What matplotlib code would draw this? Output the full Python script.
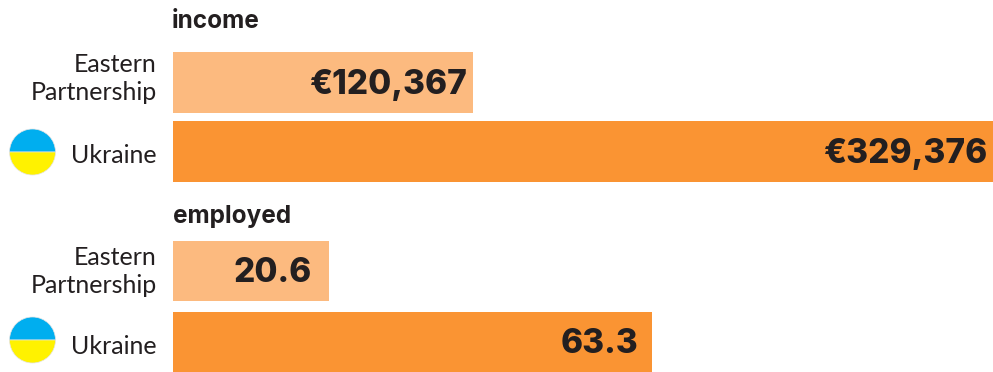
import matplotlib
matplotlib.use('Agg')
import matplotlib.pyplot as plt
from matplotlib.patches import Wedge

W, H = 993, 372

categories = ['Eastern\nPartnership', 'Ukraine']
income_values = [120367, 329376]
income_labels = ['€120,367', '€329,376']
employed_values = [20.6, 63.3]
employed_labels = ['20.6', '63.3']
bar_colors = ['#fcba7f', '#fa9433']
text_color = '#231f20'

plt.rcParams['font.family'] = ['Lato', 'DejaVu Sans']

fig = plt.figure(figsize=(W / 100, H / 100), dpi=100)


def panel(top, bottom, values, labels, x_max, bar_h, pads, shifts):
    ax = fig.add_axes([173 / W, 1 - bottom / H, 820 / W, (bottom - top) / H])
    y = list(range(len(values)))
    ax.barh(y, values, height=bar_h, color=bar_colors)
    ax.set_xlim(0, x_max)
    ax.set_ylim(1 + bar_h / 2, -bar_h / 2)
    ax.axis('off')
    for i, (v, lab) in enumerate(zip(values, labels)):
        ax.annotate(lab, (v, i), xytext=(-pads[i] * 0.72, -1.5), textcoords='offset points',
                    ha='right', va='center', fontsize=24, fontweight='heavy', color=text_color,
                    family=['Inter', 'DejaVu Sans'])
        ax.annotate(categories[i], (0, i), xytext=(-16 * 0.72, shifts[i] * 0.72), textcoords='offset points',
                    ha='right', va='center', fontsize=18, color=text_color,
                    linespacing=1.25, annotation_clip=False)
    return ax


panel(52, 182, income_values, income_labels, 329376, 0.884, [5, 5], [4, -4])
panel(241, 372, employed_values, employed_labels, 108.3, 0.858, [17, 14], [0, -5])

# capa em pixels para titulos e bandeiras
over = fig.add_axes([0, 0, 1, 1])
over.set_xlim(0, W)
over.set_ylim(H, 0)
over.axis('off')
over.patch.set_alpha(0)
for x, y, name in [(172, 22, 'income'), (173, 216, 'employed')]:
    over.text(x, y, name, ha='left', va='center', fontsize=17.5, fontweight='bold',
              color=text_color, family=['Inter', 'DejaVu Sans'])

for cy in [152, 340]:
    over.add_patch(Wedge((32.5, cy), 23, 180, 360, fc='#00aeef', ec='#e4e4e4', lw=0.5))
    over.add_patch(Wedge((32.5, cy), 23, 0, 180, fc='#fff200', ec='#e4e4e4', lw=0.5))

fig.savefig('out.png', dpi=100)
